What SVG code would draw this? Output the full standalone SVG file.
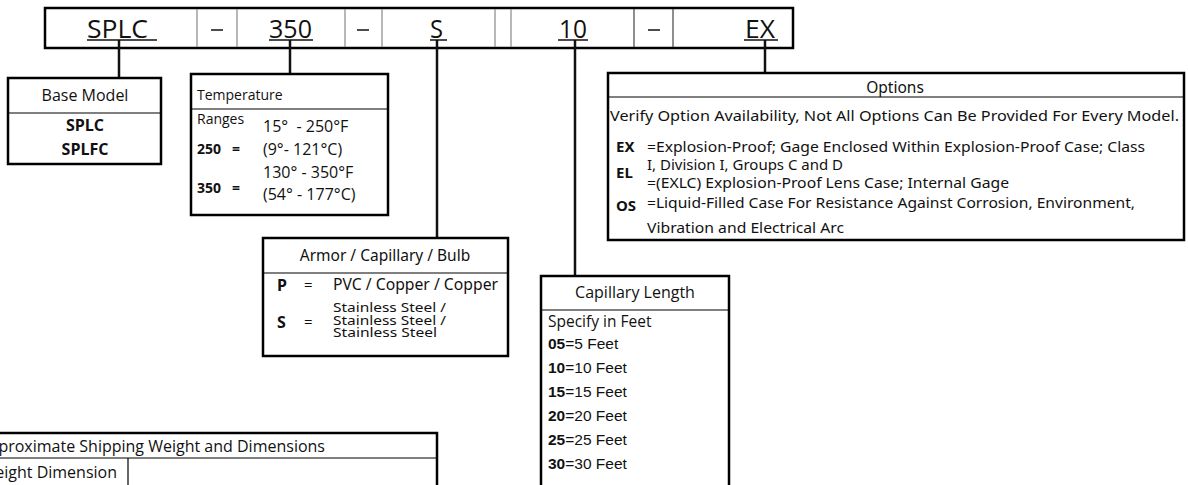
<svg xmlns="http://www.w3.org/2000/svg" width="1188" height="485" viewBox="0 0 1188 485">
<style>
.box{fill:#fff;stroke:#000;stroke-width:2.5}
.div{stroke:#000;stroke-width:1.2}
.cell{stroke:#888;stroke-width:1.2}
.cell2{stroke:#444;stroke-width:1.2}
.con{stroke:#111;stroke-width:2.5;fill:none}
.hd{font-family:"Open Sans",sans-serif;font-size:26px;fill:#111}
.ul{stroke:#111;stroke-width:1.5}
.t{font-family:"Open Sans",sans-serif;font-size:16px;fill:#111}
.ts{font-family:"Open Sans",sans-serif;font-size:14px;fill:#111}
.tm{font-family:"Open Sans",sans-serif;font-size:15.5px;fill:#111}
.b{font-family:"Open Sans",sans-serif;font-size:16px;font-weight:bold;fill:#111}
.bs{font-family:"Open Sans",sans-serif;font-size:14px;font-weight:bold;fill:#111}
.a{font-family:"Liberation Sans",Arial,sans-serif;font-size:15.5px;fill:#111}
.ab{font-family:"Liberation Sans",Arial,sans-serif;font-size:15.5px;font-weight:bold;fill:#111}
.n{font-family:"Noto Sans",sans-serif;font-size:15px;fill:#111}
.nt{font-family:"Noto Sans",sans-serif;font-size:15.5px;fill:#111}
.nss{font-family:"Noto Sans",sans-serif;font-size:13px;fill:#111}
.nb{font-family:"Noto Sans",sans-serif;font-size:15px;font-weight:bold;fill:#111}
.nbl{font-family:"Noto Sans",sans-serif;font-size:16px;font-weight:bold;fill:#111}
</style>
<rect width="1188" height="485" fill="#fff"/>

<g id="header">
<rect class="box" x="45" y="8" width="748" height="40"/>
<line class="cell" x1="197" y1="9" x2="197" y2="47"/>
<line class="cell" x1="237" y1="9" x2="237" y2="47"/>
<line class="cell" x1="345" y1="9" x2="345" y2="47"/>
<line class="cell" x1="382" y1="9" x2="382" y2="47"/>
<line class="cell" x1="495" y1="9" x2="495" y2="47"/>
<line class="cell" x1="511" y1="9" x2="511" y2="47"/>
<line class="cell2" x1="634" y1="9" x2="634" y2="47"/>
<line class="cell2" x1="673" y1="9" x2="673" y2="47"/>
<text class="hd" x="87" y="38" textLength="61" lengthAdjust="spacingAndGlyphs">SPLC</text>
<line class="ul" x1="87" y1="40" x2="157" y2="40"/>
<line class="ul" x1="211" y1="30" x2="223" y2="30"/>
<text class="hd" x="269" y="38" textLength="43" lengthAdjust="spacingAndGlyphs">350</text>
<line class="ul" x1="269" y1="40" x2="313" y2="40"/>
<line class="ul" x1="357" y1="30" x2="369" y2="30"/>
<text class="hd" x="430" y="38" textLength="13" lengthAdjust="spacingAndGlyphs">S</text>
<line class="ul" x1="430" y1="40" x2="447" y2="40"/>
<text class="hd" x="559" y="38" textLength="28" lengthAdjust="spacingAndGlyphs">10</text>
<line class="ul" x1="558" y1="40" x2="588" y2="40"/>
<line class="ul" x1="648" y1="30" x2="660" y2="30"/>
<text class="hd" x="745" y="38" textLength="30" lengthAdjust="spacingAndGlyphs">EX</text>
<line class="ul" x1="744" y1="40" x2="778" y2="40"/>
</g>

<g id="connectors">
<line class="con" x1="119" y1="40" x2="119" y2="78"/>
<line class="con" x1="290" y1="40" x2="290" y2="74"/>
<line class="con" x1="437" y1="40" x2="437" y2="238"/>
<line class="con" x1="575" y1="40" x2="575" y2="276"/>
<line class="con" x1="765" y1="40" x2="765" y2="73"/>
</g>

<g id="base-model">
<rect class="box" x="8" y="78" width="153" height="86"/>
<line class="div" x1="8" y1="113" x2="161" y2="113"/>
<text class="t" x="85" y="101" text-anchor="middle">Base Model</text>
<text class="b" x="85" y="131" text-anchor="middle">SPLC</text>
<text class="b" x="85" y="155" text-anchor="middle">SPLFC</text>
</g>

<g id="temperature">
<rect class="box" x="191" y="74" width="197" height="141"/>
<line class="div" x1="191" y1="109" x2="388" y2="109"/>
<text class="ts" x="197" y="100">Temperature</text>
<text class="ts" x="197" y="124">Ranges</text>
<text class="t" x="263" y="132" xml:space="preserve">15°  - 250°F</text>
<text class="bs" x="197" y="154">250</text>
<text class="bs" x="232" y="154">=</text>
<text class="t" x="263" y="155">(9°- 121°C)</text>
<text class="t" x="263" y="178">130° - 350°F</text>
<text class="bs" x="197" y="193">350</text>
<text class="bs" x="232" y="193">=</text>
<text class="t" x="263" y="200">(54° - 177°C)</text>
</g>

<g id="armor">
<rect class="box" x="263" y="238" width="245" height="118"/>
<line class="div" x1="263" y1="273" x2="508" y2="273"/>
<text class="nt" x="385" y="261" text-anchor="middle">Armor / Capillary / Bulb</text>
<text class="nbl" x="277" y="291">P</text>
<text class="n" x="304" y="290">=</text>
<text class="nt" x="333" y="290" textLength="165" lengthAdjust="spacingAndGlyphs">PVC / Copper / Copper</text>
<text class="nbl" x="277" y="328">S</text>
<text class="n" x="304" y="327">=</text>
<text class="nss" x="333" y="312" textLength="113" lengthAdjust="spacingAndGlyphs">Stainless Steel /</text>
<text class="nss" x="333" y="324.5" textLength="113" lengthAdjust="spacingAndGlyphs">Stainless Steel /</text>
<text class="nss" x="333" y="337" textLength="104" lengthAdjust="spacingAndGlyphs">Stainless Steel</text>
</g>

<g id="capillary-length">
<rect class="box" x="541" y="276" width="188" height="220"/>
<line class="div" x1="541" y1="310" x2="729" y2="310"/>
<text class="t" x="635" y="298" text-anchor="middle">Capillary Length</text>
<text class="tm" x="548" y="327">Specify in Feet</text>
<text class="a" x="548" y="349"><tspan class="ab">05</tspan>=5 Feet</text>
<text class="a" x="548" y="373"><tspan class="ab">10</tspan>=10 Feet</text>
<text class="a" x="548" y="397"><tspan class="ab">15</tspan>=15 Feet</text>
<text class="a" x="548" y="421"><tspan class="ab">20</tspan>=20 Feet</text>
<text class="a" x="548" y="445"><tspan class="ab">25</tspan>=25 Feet</text>
<text class="a" x="548" y="469"><tspan class="ab">30</tspan>=30 Feet</text>
</g>

<g id="options">
<rect class="box" x="608" y="73" width="576" height="167"/>
<line class="div" x1="608" y1="97" x2="1184" y2="97"/>
<text class="nt" x="895" y="93" text-anchor="middle">Options</text>
<text class="n" x="610" y="121" textLength="569" lengthAdjust="spacingAndGlyphs">Verify Option Availability, Not All Options Can Be Provided For Every Model.</text>
<text class="nb" x="616" y="152">EX</text>
<text class="n" x="647" y="152" textLength="498" lengthAdjust="spacingAndGlyphs">=Explosion-Proof; Gage Enclosed Within Explosion-Proof Case; Class</text>
<text class="n" x="647" y="170" textLength="196" lengthAdjust="spacingAndGlyphs">I, Division I, Groups C and D</text>
<text class="nb" x="616" y="178">EL</text>
<text class="n" x="647" y="188" textLength="362" lengthAdjust="spacingAndGlyphs">=(EXLC) Explosion-Proof Lens Case; Internal Gage</text>
<text class="nb" x="616" y="211">OS</text>
<text class="n" x="647" y="208" textLength="488" lengthAdjust="spacingAndGlyphs">=Liquid-Filled Case For Resistance Against Corrosion, Environment,</text>
<text class="n" x="647" y="233" textLength="197" lengthAdjust="spacingAndGlyphs">Vibration and Electrical Arc</text>
</g>

<g id="shipping">
<rect class="box" x="-20" y="433" width="457" height="70"/>
<line class="div" x1="-20" y1="458" x2="437" y2="458"/>
<line class="div" x1="128" y1="458" x2="128" y2="485"/>
<text class="t" x="325" y="452" text-anchor="end">Approximate Shipping Weight and Dimensions</text>
<text class="t" x="117" y="478" text-anchor="end">Weight Dimension</text>
</g>
</svg>
